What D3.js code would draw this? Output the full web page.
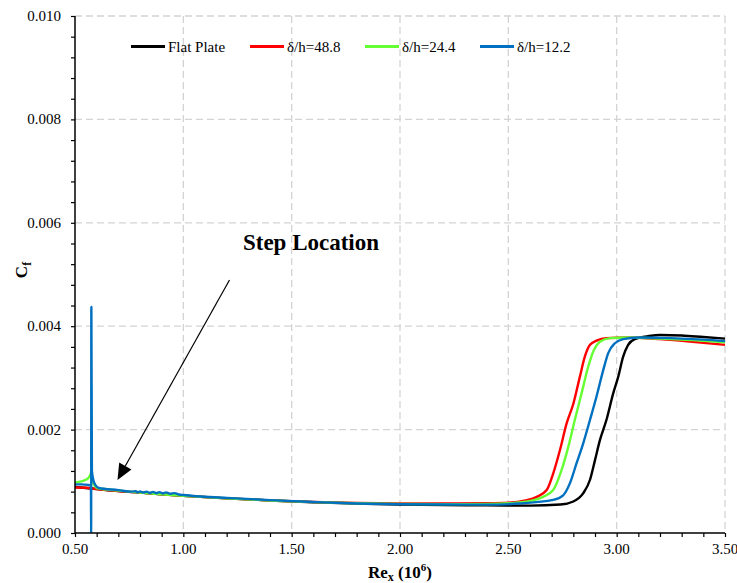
<!DOCTYPE html>
<html>
<head>
<meta charset="utf-8">
<script src="https://cdn.jsdelivr.net/npm/d3@7/dist/d3.min.js"></script>
<style>
  html, body { margin: 0; padding: 0; background: #fff; }
  svg { display: block; }
</style>
</head>
<body>
<svg id="chart" width="737" height="583"></svg>
<script>
// Skin friction coefficient along the plate, Re_x in millions
const flatPlate = [
  [0.50,0.00089],[0.55,0.00087],[0.60,0.00085],[0.70,0.00081],[0.80,0.00078],
  [0.90,0.00075],[1.00,0.00072],[1.20,0.00067],[1.40,0.00063],[1.60,0.000595],
  [1.80,0.00057],[2.00,0.00055],[2.20,0.00054],[2.40,0.000535],[2.60,0.00053],
  [2.74,0.00055],[2.80,0.00061],[2.846,0.00077],[2.877,0.00103],[2.90,0.00141],
  [2.923,0.0018],[2.953,0.00219],[2.984,0.0027],[3.007,0.00302],[3.03,0.00341],
  [3.053,0.00364],[3.084,0.00375],[3.15,0.00381],[3.20,0.00383],[3.30,0.00382],
  [3.40,0.00379],[3.50,0.00376]
];
const stepH488 = [
  [0.50,0.00088],[0.55,0.000875],[0.60,0.00085],[0.70,0.00081],[0.80,0.00078],
  [0.90,0.00075],[1.00,0.00072],[1.20,0.00067],[1.40,0.00063],[1.60,0.0006],
  [1.80,0.00058],[2.00,0.000572],[2.20,0.00057],[2.40,0.000575],[2.50,0.000585],
  [2.58,0.00063],[2.631,0.0007],[2.677,0.00083],[2.707,0.00115],[2.738,0.0016],
  [2.769,0.00212],[2.80,0.0025],[2.83,0.00302],[2.853,0.00341],[2.877,0.00364],
  [2.907,0.00372],[2.953,0.00377],[3.05,0.00378],[3.20,0.00375],[3.35,0.0037],
  [3.50,0.00364]
];
const stepH244 = [
  [0.50,0.00098],[0.53,0.001],[0.55,0.00103],[0.565,0.00108],[0.572,0.00114],
  [0.576,0.00118],[0.58,0.001],[0.59,0.00092],[0.60,0.00087],[0.70,0.00082],
  [0.80,0.00078],[0.90,0.00075],[1.00,0.00072],[1.20,0.00067],[1.40,0.00063],
  [1.60,0.000598],[1.80,0.000575],[2.00,0.000563],[2.20,0.000558],[2.40,0.00056],
  [2.55,0.00059],[2.661,0.0007],[2.707,0.00083],[2.746,0.00122],[2.777,0.00167],
  [2.807,0.00219],[2.838,0.0027],[2.869,0.00322],[2.892,0.00351],[2.923,0.0037],
  [2.969,0.00377],[3.05,0.00378],[3.20,0.00376],[3.35,0.00373],[3.50,0.00369]
];
const stepH122 = [
  [0.50,0.00094],[0.53,0.00094],[0.56,0.00093],[0.57,0.00092],[0.5735,0.0009],
  [0.5745,0.0],[0.5755,0.00437],[0.578,0.0012],[0.585,0.00102],[0.595,0.00092],
  [0.61,0.00087],[0.70,0.00083],[0.76,0.0008],[0.78,0.00081],[0.79,0.000785],
  [0.80,0.000805],[0.815,0.00078],[0.83,0.0008],[0.845,0.000775],[0.86,0.000795],
  [0.875,0.00077],[0.89,0.00079],[0.905,0.000765],[0.92,0.000785],[0.94,0.00076],
  [0.96,0.000772],[0.98,0.000745],[1.00,0.000735],[1.20,0.00068],[1.40,0.000635],
  [1.60,0.0006],[1.80,0.00057],[2.00,0.000555],[2.20,0.00055],[2.40,0.000548],
  [2.55,0.00057],[2.707,0.00064],[2.753,0.00073],[2.784,0.00096],[2.815,0.00135],
  [2.846,0.00174],[2.877,0.00219],[2.907,0.00264],[2.938,0.00315],[2.961,0.00348],
  [2.992,0.00367],[3.03,0.00375],[3.10,0.00378],[3.25,0.00377],[3.40,0.00374],
  [3.50,0.00371]
];

const seriesNames = ["Flat Plate", "δ/h=48.8", "δ/h=24.4", "δ/h=12.2"];
const seriesColors = ["#000000", "#ff0000", "#66ff33", "#0070c0"];
const seriesData = [flatPlate, stepH488, stepH244, stepH122];

const xTicks = [0.5, 1.0, 1.5, 2.0, 2.5, 3.0, 3.5];
const yTicks = [0, 0.002, 0.004, 0.006, 0.008, 0.010];

const FONT = '"Liberation Serif"';
const svg = d3.select("#chart");
const plotL = 75, plotR = 725, plotT = 16, plotB = 533;

const x = d3.scaleLinear().domain([0.5, 3.5]).range([plotL, plotR]);
const y = d3.scaleLinear().domain([0, 0.010]).range([plotB, plotT]);

// grid
const grid = svg.append("g").attr("stroke", "#d4d4d4").attr("stroke-width", 1.3)
  .attr("stroke-dasharray", "7,4");
grid.selectAll("line.gx").data(xTicks.slice(1)).join("line")
  .attr("x1", d => x(d)).attr("x2", d => x(d)).attr("y1", plotT).attr("y2", plotB);
grid.selectAll("line.gy").data(yTicks.slice(1)).join("line")
  .attr("x1", plotL).attr("x2", plotR).attr("y1", d => y(d)).attr("y2", d => y(d));

// curves
svg.append("clipPath").attr("id", "plotclip").append("rect")
  .attr("x", plotL).attr("y", plotT).attr("width", plotR - plotL).attr("height", plotB - plotT);
const line = d3.line().x(d => x(d[0])).y(d => y(d[1])).curve(d3.curveMonotoneX);
svg.append("g").attr("clip-path", "url(#plotclip)")
  .selectAll("path").data(seriesData).join("path")
  .attr("d", line).attr("fill", "none")
  .attr("stroke", (d, i) => seriesColors[i]).attr("stroke-width", 2.4)
  .attr("stroke-linejoin", "round");

// axes
const xMinor = d3.range(5, 36).map(v => v / 10);
const yMinor = d3.range(0, 26).map(v => v * 0.0004);
const xAxis = d3.axisBottom(x).tickValues(xMinor).tickSize(4).tickFormat("");
const yAxis = d3.axisLeft(y).tickValues(yMinor).tickSize(4).tickFormat("");
const gx = svg.append("g").attr("transform", `translate(0,${plotB})`).call(xAxis);
const gy = svg.append("g").attr("transform", `translate(${plotL},0)`).call(yAxis);
[gx, gy].forEach(g => {
  g.select(".domain").attr("stroke", "#000").attr("stroke-width", 1.5);
  g.selectAll(".tick line").attr("stroke", "#000").attr("stroke-width", 1.2);
});
gx.select(".domain").attr("d", `M${plotL},0H${plotR}`);
gy.select(".domain").attr("d", `M0,${plotT}V${plotB}`);

svg.append("g").selectAll("text").data(xTicks).join("text")
  .attr("x", d => x(d)).attr("y", plotB + 21).attr("text-anchor", "middle")
  .style("font-family", FONT).style("font-size", "15px").text(d => d.toFixed(2));
svg.append("g").selectAll("text").data(yTicks).join("text")
  .attr("x", plotL - 14).attr("y", d => y(d) + 5).attr("text-anchor", "end")
  .style("font-family", FONT).style("font-size", "15px").text(d => d.toFixed(3));

// axis titles
const xt = svg.append("text").attr("x", 400).attr("y", 578).attr("text-anchor", "middle")
  .style("font-family", FONT).style("font-size", "17px").style("font-weight", "bold");
xt.append("tspan").text("Re");
xt.append("tspan").style("font-size", "12px").attr("dy", 3).text("x");
xt.append("tspan").attr("dy", -3).text(" (10");
xt.append("tspan").style("font-size", "11px").attr("dy", -7).text("6");
xt.append("tspan").attr("dy", 7).text(")");

const yt = svg.append("text").attr("transform", "translate(27,270) rotate(-90)")
  .attr("text-anchor", "middle").style("font-family", FONT)
  .style("font-size", "17px").style("font-weight", "bold");
yt.append("tspan").text("C");
yt.append("tspan").style("font-size", "12px").attr("dy", 4).text("f");

// legend
const legendX = [131, 250, 365, 480];
const lg = svg.append("g").selectAll("g").data(seriesNames).join("g")
  .attr("transform", (d, i) => `translate(${legendX[i]},46.5)`);
lg.append("line").attr("x1", 0).attr("x2", 34).attr("y1", 0).attr("y2", 0)
  .attr("stroke", (d, i) => seriesColors[i]).attr("stroke-width", 2.8);
lg.append("text").attr("x", 37).attr("y", 5).style("font-family", FONT)
  .style("font-size", "15px").text(d => d);

// annotation
svg.append("text").attr("x", 311).attr("y", 250).attr("text-anchor", "middle")
  .style("font-family", FONT).style("font-size", "23px").style("font-weight", "bold")
  .text("Step Location");
const ax0 = 229.5, ay0 = 280, ax1 = 117.5, ay1 = 480;
const ang = Math.atan2(ay1 - ay0, ax1 - ax0);
const headLen = 16, headW = 7;
const bx = ax1 - headLen * Math.cos(ang), by = ay1 - headLen * Math.sin(ang);
svg.append("line").attr("x1", ax0).attr("y1", ay0).attr("x2", bx).attr("y2", by)
  .attr("stroke", "#000").attr("stroke-width", 1.2);
svg.append("path").attr("fill", "#000").attr("d",
  `M${ax1},${ay1}L${bx + headW * Math.sin(ang)},${by - headW * Math.cos(ang)}` +
  `L${bx - headW * Math.sin(ang)},${by + headW * Math.cos(ang)}Z`);
</script>
</body>
</html>
